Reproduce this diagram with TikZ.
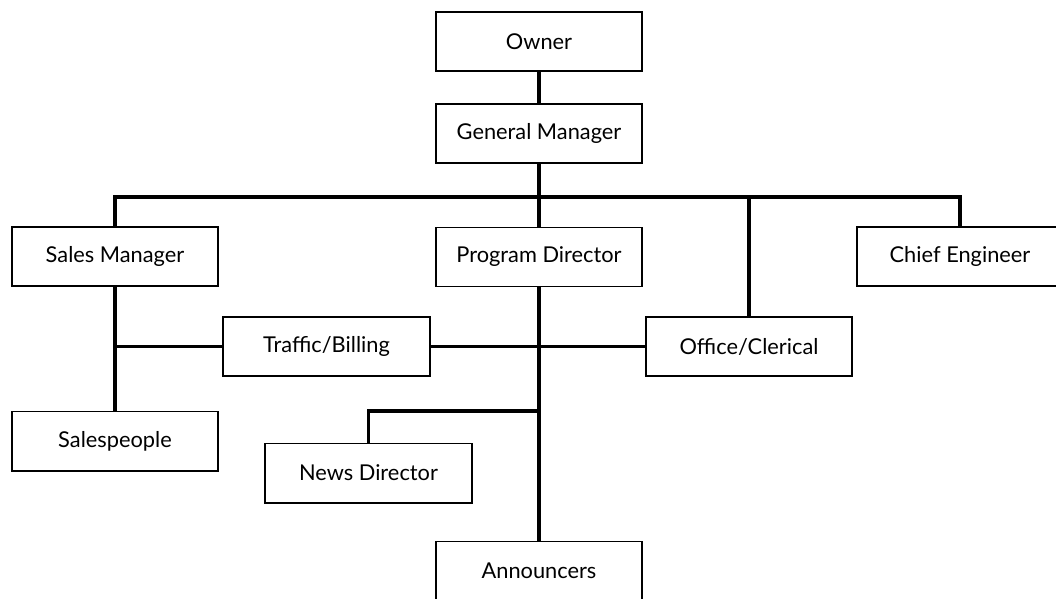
\documentclass[tikz,border=0pt]{standalone}
\usepackage{fontspec}
\setmainfont{Lato}
\begin{document}
\begin{tikzpicture}[x=0.025cm,y=-0.025cm,
        post/.style={draw,line width=1.4pt,minimum width=5.15cm,minimum height=1.475cm,
            inner sep=0pt,font=\fontsize{15.5}{18}\selectfont},
        link/.style={line width=2.6pt}]
    \useasboundingbox (0,0) rectangle (1056,598);
    % top of the tree
    \node[post] (owner) at (539,41.5) {Owner};
    \node[post] (gm) at (539,133.5) {General Manager};
    % second row
    \node[post] (sales) at (115,256.5) {Sales Manager};
    \node[post] (pd) at (539,257) {Program Director};
    \node[post] (chief) at (960,256.5) {Chief Engineer};
    % staff
    \node[post] (traffic) at (326.5,346.5) {Traffic/Billing};
    \node[post] (office) at (749,346.5) {Office/Clerical};
    \node[post] (salespeople) at (115,441) {Salespeople};
    \node[post] (news) at (368.5,473) {News Director};
    \node[post] (announcers) at (539,571) {Announcers};
    \coordinate (bus) at (539,197);
    \coordinate (ndtap) at (539,411);
    % connectors
    \draw[link] (owner) -- (gm);
    \draw[link] (gm) -- (pd);
    \draw[link] (sales.north) |- (bus) -| (chief.north);
    \draw[link] (bus) -| (office.north);
    \draw[link] (sales) -- (salespeople);
    \draw[link] (traffic.west) -- (traffic.west -| sales.south);
    \draw[link] (traffic.east) -- (office.west);
    \draw[link] (pd) -- (announcers);
    \draw[link] (ndtap) -| (news.north);
\end{tikzpicture}
\end{document}
